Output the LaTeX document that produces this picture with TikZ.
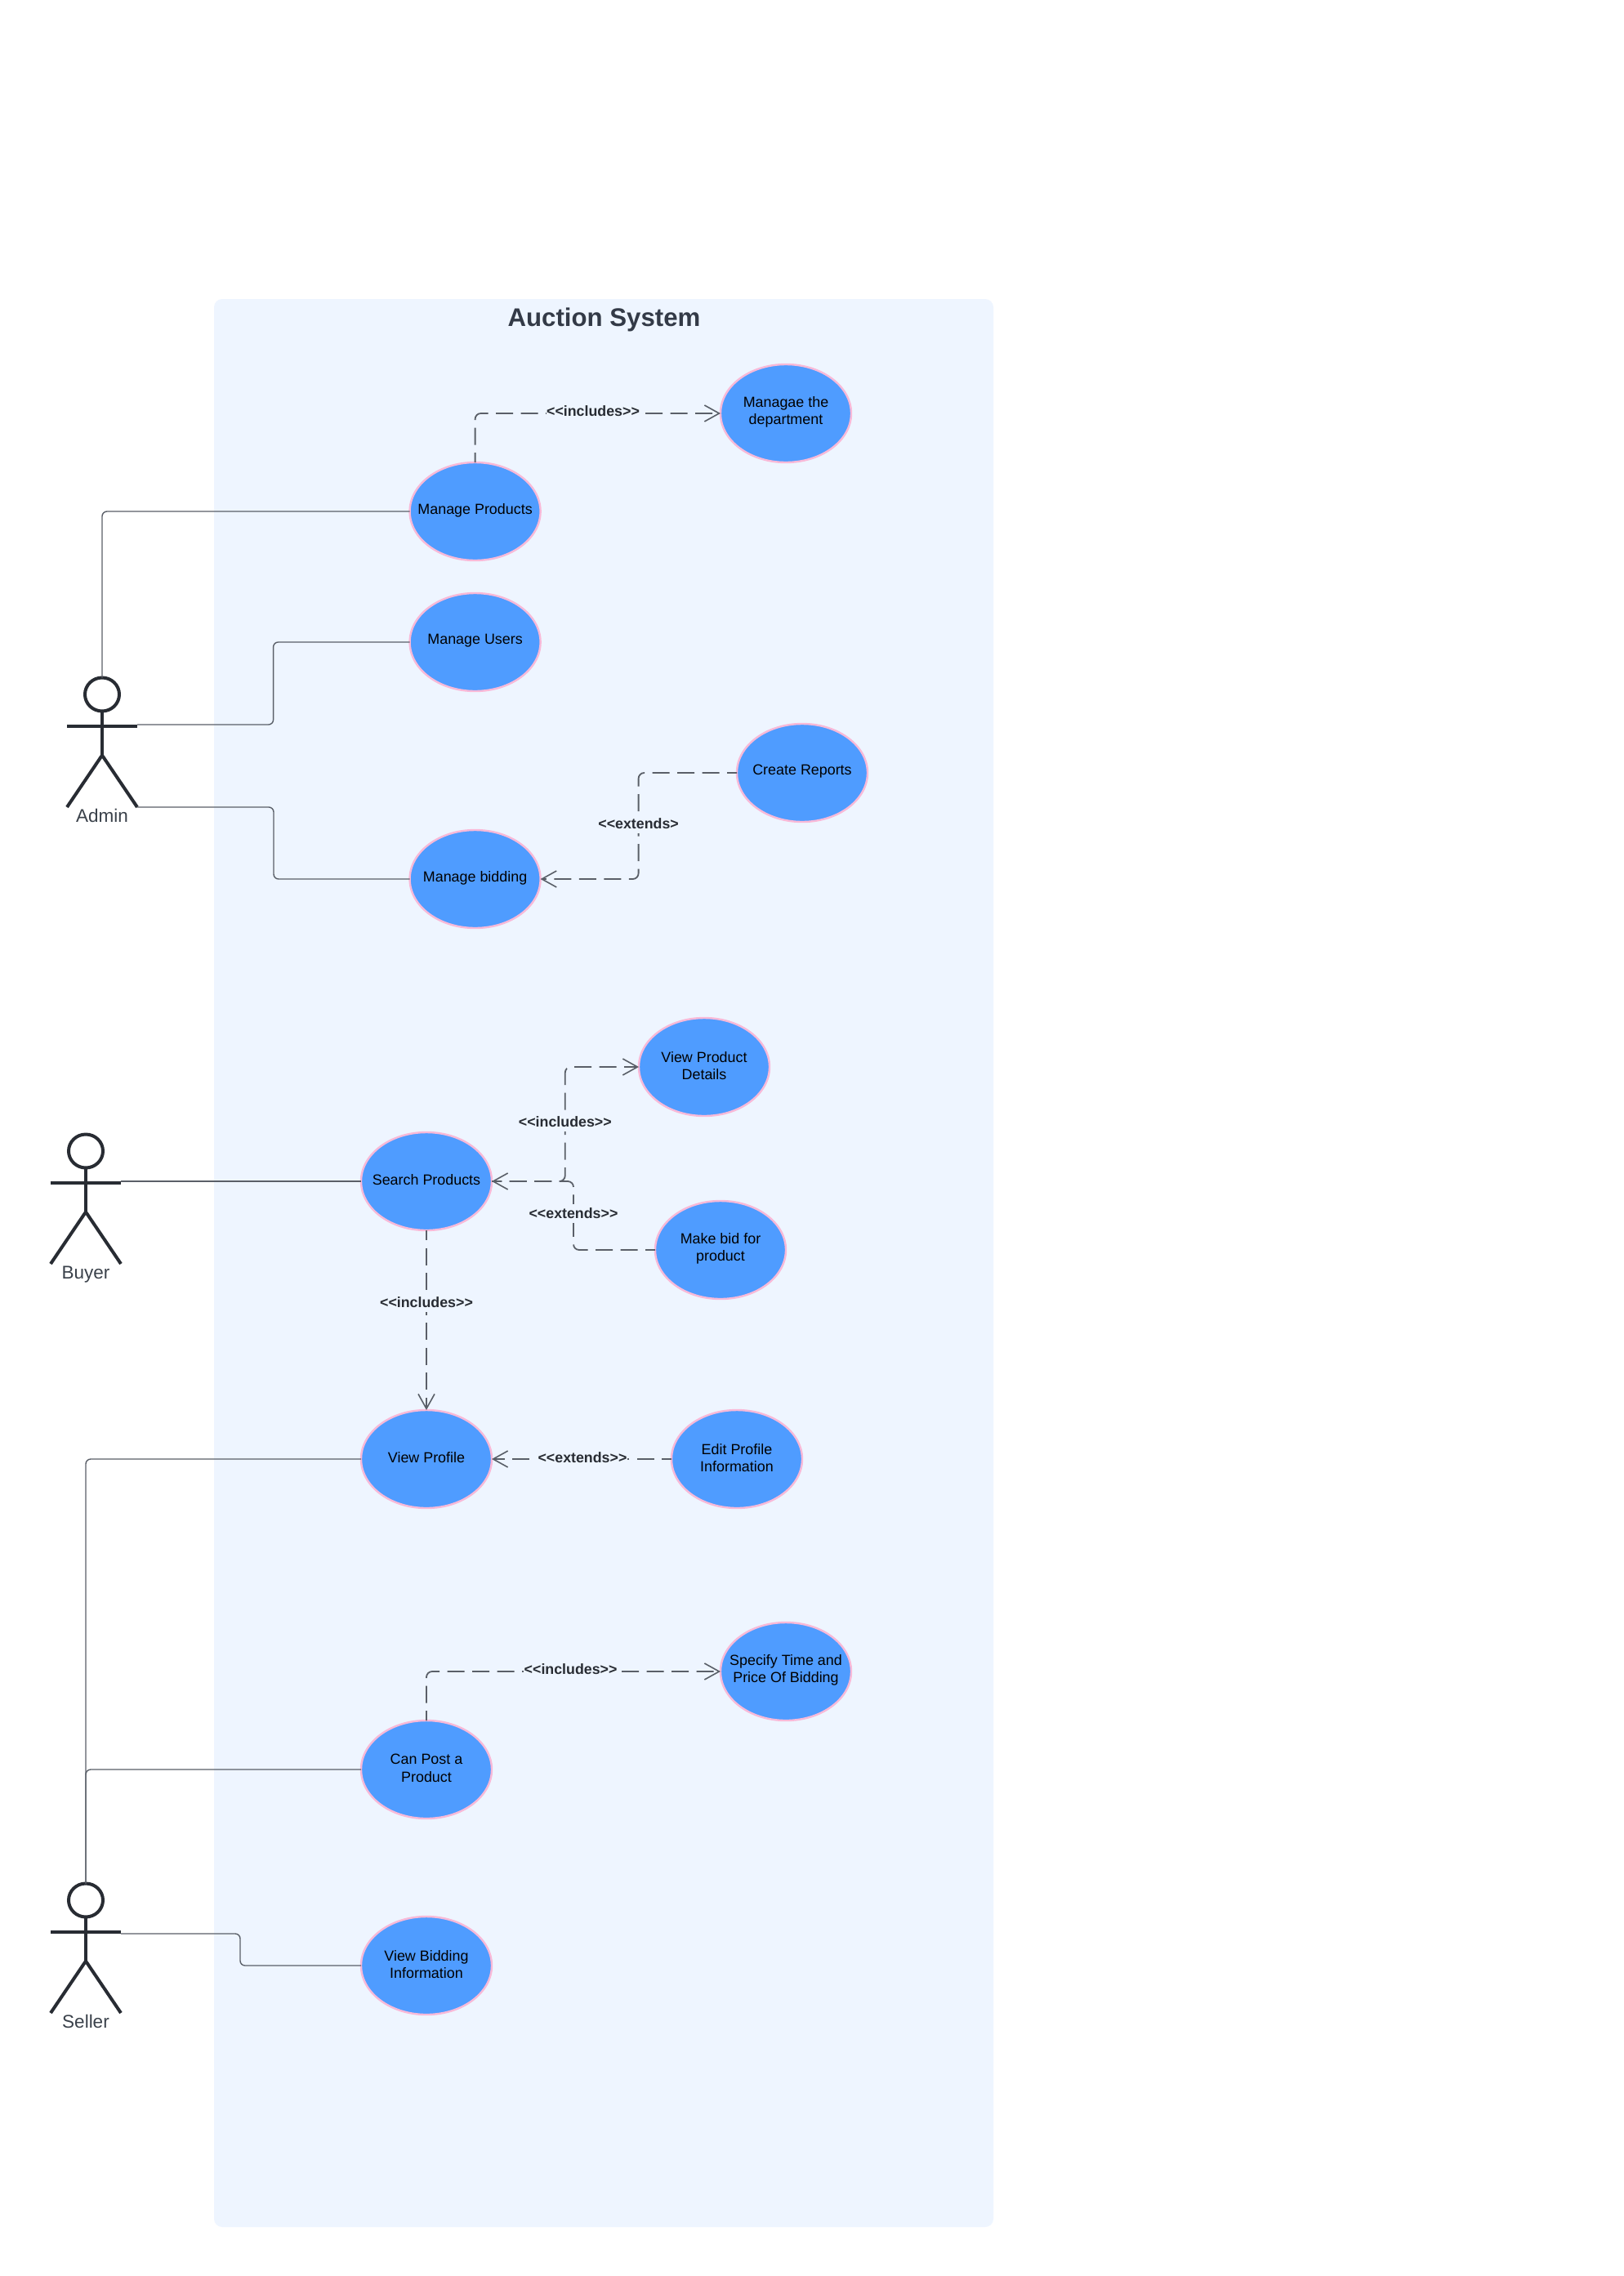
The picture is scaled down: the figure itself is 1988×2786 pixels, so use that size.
\documentclass[tikz,border=0pt]{standalone}
\usepackage{fontspec}
\setmainfont{Liberation Sans}
\usetikzlibrary{arrows.meta,shapes.geometric}
\definecolor{panelblue}{HTML}{EEF5FF}
\definecolor{ucfill}{HTML}{4F9CFF}
\definecolor{ucborder}{HTML}{F8B9D8}
\definecolor{inkdark}{HTML}{282C33}
\definecolor{inktitle}{HTML}{333A47}
\definecolor{inklabel}{HTML}{3A414A}
\definecolor{linegray}{HTML}{5A5F68}
\tikzset{
  panelbox/.style={fill=panelblue,draw=none,rounded corners=10pt},
  uctext/.style={font=\fontsize{17.9}{21.4}\selectfont,text=black,align=center,inner sep=0pt,yshift=1.5pt},
  ucase/.style={ellipse,draw=ucborder,fill=ucfill,line width=2.4pt,minimum width=160pt,minimum height=120pt,inner sep=0pt,outer sep=0pt},
  assoc/.style={draw=linegray,line width=1.4pt,rounded corners=6pt},
  dep/.style={draw=linegray,line width=1.8pt,rounded corners=7pt,dash pattern=on 21pt off 9.5pt,dash phase=9pt},
  deparrow/.style={dep,-{Straight Barb[length=18pt,width=20pt,line width=1.6pt]}},
  deplabel/.style={font=\fontsize{17.8}{20}\selectfont\bfseries,text=inkdark,fill=panelblue,inner xsep=0.5pt,inner ysep=0pt,minimum height=23pt},
  actorhead/.style={ellipse,draw=inkdark,line width=4pt,minimum width=42pt,minimum height=41pt,inner sep=0pt,outer sep=0pt},
  actorline/.style={draw=inkdark,line width=4pt},
  actorname/.style={font=\fontsize{22.5}{24}\selectfont,text=inklabel,anchor=base,inner sep=0pt},
  titletext/.style={font=\fontsize{31.2}{34}\selectfont\bfseries,text=inktitle,inner sep=0pt},
}
\newcommand{\stickactor}[4]{%
  \node[actorhead] (#1head) at (#2,#3) {};
  \coordinate (#1armL) at ([xshift=-43pt,yshift=-39pt]#1head.center);
  \coordinate (#1armM) at ([yshift=-39pt]#1head.center);
  \coordinate (#1armR) at ([xshift=43pt,yshift=-39pt]#1head.center);
  \coordinate (#1hip) at ([yshift=-74.5pt]#1head.center);
  \coordinate (#1legL) at ([xshift=-43pt,yshift=-138pt]#1head.center);
  \coordinate (#1legR) at ([xshift=43pt,yshift=-138pt]#1head.center);
  \draw[actorline] (#1armL) -- (#1armR);
  \draw[actorline] (#1head.south) -- (#1hip);
  \draw[actorline] (#1legL) -- (#1hip) -- (#1legR);
  \node[actorname] (#1name) at ([yshift=-156.5pt]#1head.center) {#4};
}
\newcommand{\usecase}[4]{%
  \node[ucase,label={[uctext]center:#4}] (#1) at (#2,#3) {};
}
\begin{document}
\begin{tikzpicture}[x=1pt,y=-1pt]
\useasboundingbox (0,0) rectangle (1988,2786);
\fill[white] (0,0) rectangle (1988,2786);
\path[panelbox] (262,366) rectangle (1216,2726);
\node[titletext] (title) at (739.5,391.5) {Auction System};

% use cases
\usecase{mp}{581.6}{626}{Manage Products}
\usecase{md}{962}{506}{Managae the\\department}
\usecase{mu}{581.6}{786}{Manage Users}
\usecase{cr}{982}{946}{Create Reports}
\usecase{mb}{581.6}{1076}{Manage bidding}
\usecase{vd}{862}{1306}{View Product\\Details}
\usecase{sp}{522}{1446}{Search Products}
\usecase{bp}{882}{1530}{Make bid for\\product}
\usecase{vp}{522}{1786}{View Profile}
\usecase{ep}{902}{1786}{Edit Profile\\Information}
\usecase{st}{962}{2046}{Specify Time and\\Price Of Bidding}
\usecase{cp}{522}{2166}{Can Post a\\Product}
\usecase{vb}{522}{2406}{View Bidding\\Information}

% actors
\stickactor{admin}{125}{850}{Admin}
\stickactor{buyer}{105}{1409}{Buyer}
\stickactor{seller}{105}{2326}{Seller}

% bend points
\coordinate (aEndUsers) at (168,887);
\coordinate (aBendUsers) at (334.6,786);
\coordinate (aBendBid) at (335,1076);
\coordinate (bEnd) at (148,1446);
\coordinate (sEnd) at (148,2367);
\coordinate (sBend) at (294,2406);
\coordinate (mdBend) at (581.6,506);
\coordinate (crBend) at (781.6,946);
\coordinate (vdBend) at (691.8,1306);
\coordinate (bpBend) at (702,1530);
\coordinate (cpBend) at (522,2046);

% associations
\draw[assoc] (mp.west) -| (adminhead.north);
\draw[assoc] (aEndUsers) -| (aBendUsers) -- (mu.west);
\draw[assoc] (adminlegR) -| (aBendBid) -- (mb.west);
\draw[assoc] (bEnd) -- (sp.west);
\draw[assoc] (vp.west) -| (sellerhead.north);
\draw[assoc] (cp.west) -| (sellerhead.north);
\draw[assoc] (sEnd) -| (sBend) -- (vb.west);

% dependencies
\draw[deparrow] (mp.north) -- (mdBend) -- (md.west);
\draw[deparrow] (cr.west) -- (crBend) |- (mb.east);
\draw[deparrow] (sp.east) -| (vdBend) -- (vd.west);
\draw[deparrow] (bp.west) -- (bpBend) |- (sp.east);
\draw[deparrow] (sp.south) -- (vp.north);
\draw[deparrow] (ep.west) -- (vp.east);
\draw[deparrow] (cp.north) -- (cpBend) -- (st.west);

% dependency labels
\node[deplabel] (l1) at (726,503) {<{}<includes>{}>};
\node[deplabel] (l2) at (781.6,1008) {<{}<extends>};
\node[deplabel] (l3) at (691.8,1373.5) {<{}<includes>{}>};
\node[deplabel] (l4) at (702,1485.4) {<{}<extends>{}>};
\node[deplabel] (l5) at (522,1594) {<{}<includes>{}>};
\node[deplabel] (l6) at (713,1784) {<{}<extends>{}>};
\node[deplabel] (l7) at (698.6,2043) {<{}<includes>{}>};
\end{tikzpicture}
\end{document}
